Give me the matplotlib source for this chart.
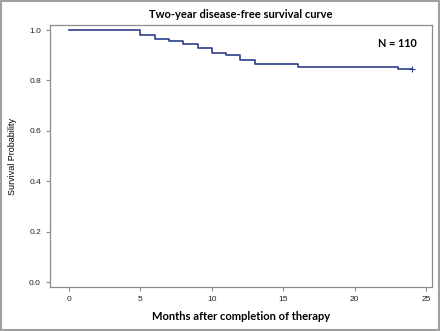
import matplotlib
matplotlib.use("Agg")
import matplotlib.pyplot as plt
from matplotlib.patches import Rectangle

# Kaplan-Meier steps
months = [0, 5, 6, 7, 8, 9, 10, 11, 12, 13, 16, 23, 24]
survival = [1.0, 0.982, 0.964, 0.955, 0.945, 0.927, 0.909, 0.900, 0.882, 0.864, 0.855, 0.845, 0.845]
censor_t = [24]
censor_s = [0.845]

xticks = [0, 5, 10, 15, 20, 25]
yticks = [0.0, 0.2, 0.4, 0.6, 0.8, 1.0]

grey = "#8c8c8c"
line_col = "#2e3d8c"

fig = plt.figure(figsize=(4.4, 3.31), dpi=100)
ax = fig.add_axes([0.1136, 0.1329, 0.868, 0.7915])

ax.step(months, survival, where="post", color=line_col, lw=1.2)
ax.plot(censor_t, censor_s, marker="+", color=line_col, ms=5, mew=0.8, ls="none")

ax.set_xlim(-1.33, 25.4)
ax.set_ylim(-0.019, 1.02)
ax.set_xticks(xticks)
ax.set_yticks(yticks)
ax.set_yticklabels([f"{v:.1f}" for v in yticks])

for s in ax.spines.values():
    s.set_color(grey)
    s.set_linewidth(0.9)
ax.tick_params(colors=grey, labelcolor="#222222", labelsize=6, length=3, width=0.8,
               labelfontfamily="Liberation Sans")

ax.set_xlabel("Months after completion of therapy", fontsize=8, fontweight="bold",
              family="Lato", labelpad=6)
ax.set_ylabel("Survival Probability", fontsize=6.5, family="Liberation Sans", labelpad=9)
ax.set_title("Two-year disease-free survival curve", fontsize=8, fontweight="bold",
             family="Lato", pad=5)
ax.text(0.96, 0.93, "N = 110", transform=ax.transAxes, ha="right", va="center",
        fontsize=7.8, fontweight="bold", family="Lato")

fig.patches.append(Rectangle((0.002, 0.003), 0.996, 0.994, transform=fig.transFigure,
                             fill=False, edgecolor="#a0a0a0", lw=1.5))

fig.savefig("out.png", dpi=100)
